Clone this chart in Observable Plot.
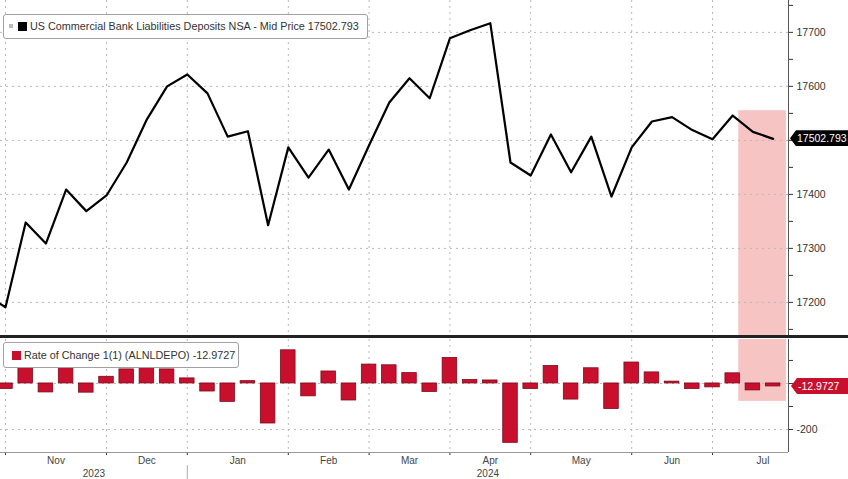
<!DOCTYPE html>
<html>
<head>
<meta charset="utf-8">
<script src="https://cdn.jsdelivr.net/npm/d3@7"></script>
<script src="https://cdn.jsdelivr.net/npm/@observablehq/plot@0.6"></script>
<style>
  body { margin: 0; background: #fff; font-family: "Liberation Sans", Arial, sans-serif; }
  #wrap { position: relative; width: 848px; height: 479px; overflow: hidden; background: #fff; }
  #wrap svg { position: absolute; left: 0; }
  .legend { position: absolute; box-sizing: border-box; background: #fff; border: 1px solid #a0a0a0;
            border-radius: 3px; font-size: 10.8px; color: #333; white-space: nowrap; }
  .legend span { position: absolute; }
  .tag { position: absolute; box-sizing: border-box; color: #fff; font-size: 10.5px; height: 16px;
         line-height: 16px; padding-left: 7px;
         clip-path: polygon(0 50%, 6px 0, 100% 0, 100% 100%, 6px 100%); }
  #divider { position: absolute; left: 0; width: 848px; height: 3px; background: #222; }
</style>
</head>
<body>
<div id="wrap"></div>
<script>
// ---- data ----
const weeks = [
  "2023-10-25","2023-11-01","2023-11-08","2023-11-15","2023-11-22","2023-11-29",
  "2023-12-06","2023-12-13","2023-12-20","2023-12-27",
  "2024-01-03","2024-01-10","2024-01-17","2024-01-24","2024-01-31",
  "2024-02-07","2024-02-14","2024-02-21","2024-02-28",
  "2024-03-06","2024-03-13","2024-03-20","2024-03-27",
  "2024-04-03","2024-04-10","2024-04-17","2024-04-24",
  "2024-05-01","2024-05-08","2024-05-15","2024-05-22","2024-05-29",
  "2024-06-05","2024-06-12","2024-06-19","2024-06-26",
  "2024-07-03","2024-07-10","2024-07-17","2024-07-24"
];
const deposits = [
  17215, 17191, 17348, 17309, 17409, 17369,
  17398, 17459, 17539, 17600,
  17622, 17587, 17507, 17517, 17343,
  17487, 17431, 17483, 17409,
  17491, 17570, 17615, 17578,
  17689, 17704, 17717, 17459,
  17435, 17511, 17441, 17507, 17396,
  17487, 17535, 17543, 17519,
  17502, 17546, 17515.77, 17502.793
];
// Rate of change 1(1), weeks[1] .. weeks[39]
const rateOfChange = [
  -24, 157, -39, 100, -40,
  29, 61, 80, 61,
  22, -35, -80, 10, -174,
  144, -56, 52, -74,
  82, 79, 45, -37,
  111, 15, 13, -258,
  -24, 76, -70, 66, -111,
  91, 48, 8, -24,
  -17, 44, -30.2, -12.9727
];
const monthLabels = ["Nov","Dec","Jan","Feb","Mar","Apr","May","Jun","Jul"];
const yearLabels = ["2023","2024"];
const priceTicks = d3.range(17150, 17751, 50);
const priceLabels = [17200, 17300, 17400, 17600, 17700];
const rocTicks = [100, 0, -100, -200];
const rocLabels = [-200];
const legendTop = "US Commercial Bank Liabilities Deposits NSA - Mid Price 17502.793";
const legendBottom = "Rate of Change 1(1) (ALNLDEPO) -12.9727";
const highlight = {from: 37.3, to: 39.66, priceTop: 17555, rocBottom: -78};

// ---- derived tables ----
const dates = weeks.map(d => new Date(d + "T00:00:00Z"));
const lineData = deposits.map((v, p) => ({p, v}));
const barData = rateOfChange.map((v, k) => ({p: k + 1, v}));
const monthStarts = [];
dates.forEach((d, p) => { if (p > 0 && d.getUTCMonth() !== dates[p - 1].getUTCMonth()) monthStarts.push(p); });
const lastStart = monthStarts[monthStarts.length - 1];
const m0 = d3.utcMonth.floor(dates[lastStart]);
const lastEnd = lastStart + d3.utcWednesday.range(m0, d3.utcMonth.offset(m0, 1)).length;
const monthMids = monthStarts.map((s, i) => ({
  label: monthLabels[i],
  p: (s + (i < monthStarts.length - 1 ? monthStarts[i + 1] : lastEnd)) / 2
}));
const xDomain = [0.7525, 39.762];
const yearStart = dates.findIndex(d => d.getUTCFullYear() === 2024);
const yearMids = [
  {label: yearLabels[0], p: (xDomain[0] + yearStart) / 2},
  {label: yearLabels[1], p: (yearStart + xDomain[1]) / 2}
];

const grid = {stroke: "#b8b8b8", strokeDasharray: "2,4", strokeWidth: 1};
const pink = "#f7c4c4";
const font = {fontFamily: "Liberation Sans, Arial, sans-serif", fontSize: "10.5px", color: "#333", background: "transparent", overflow: "visible"};

// ---- top panel ----
const priceDomain = [17135, 17759];
const topPlot = Plot.plot({
  width: 848, height: 337,
  marginLeft: 0, marginRight: 60, marginTop: 0, marginBottom: 0,
  style: font,
  x: {domain: xDomain, axis: null},
  y: {domain: priceDomain, axis: "right", ticks: priceTicks, tickSize: 4, tickPadding: 4,
      tickFormat: d => priceLabels.includes(d) ? String(d) : "", label: null},
  marks: [
    Plot.rect([highlight], {x1: "from", x2: "to", y1: priceDomain[0], y2: "priceTop", fill: pink}),
    Plot.ruleY(priceTicks.filter(d => d % 100 === 0), grid),
    Plot.ruleX(monthStarts, grid),
    Plot.line(lineData, {x: "p", y: "v", stroke: "#000", strokeWidth: 2.2, clip: true}),
    Plot.ruleX([xDomain[1]], {stroke: "#555"})
  ]
});
topPlot.style.top = "0px";

// ---- bottom panel ----
const rocDomain = [-300, 191];
const bottomPlot = Plot.plot({
  width: 848, height: 142,
  marginLeft: 0, marginRight: 60, marginTop: 2, marginBottom: 27,
  style: font,
  x: {domain: xDomain, axis: "bottom", ticks: monthStarts, tickSize: 3, tickFormat: () => "", label: null},
  y: {domain: rocDomain, axis: "right", ticks: rocTicks, tickSize: 4, tickPadding: 4,
      tickFormat: d => rocLabels.includes(d) ? String(d) : "", label: null},
  marks: [
    Plot.rect([highlight], {x1: "from", x2: "to", y1: "rocBottom", y2: rocDomain[1], fill: pink}),
    Plot.ruleY([0, -200], grid),
    Plot.ruleX(monthStarts, grid),
    Plot.rectY(barData, {x1: d => d.p - 0.36, x2: d => d.p + 0.36, y: "v",
      fill: "#c8102e", stroke: "#7d0a1a", strokeWidth: 0.8, clip: true}),
    Plot.ruleY([rocDomain[0]], {stroke: "#999"}),
    Plot.ruleX([xDomain[1]], {stroke: "#555"}),
    Plot.text(monthMids, {x: "p", y: rocDomain[0], dy: 8, text: "label", fill: "#444", fontSize: 10}),
    Plot.text(yearMids, {x: "p", y: rocDomain[0], dy: 21, text: "label", fill: "#444", fontSize: 10}),
    Plot.ruleX([yearStart], {y1: -357, y2: -420, stroke: "#aaa"})
  ]
});
const bottomTop = 337;
bottomPlot.style.top = bottomTop + "px";

const wrap = document.getElementById("wrap");
wrap.appendChild(topPlot);
wrap.appendChild(bottomPlot);

const divider = document.createElement("div");
divider.id = "divider";
divider.style.top = "335px";
wrap.appendChild(divider);

// legends
function legend(text, left, topPx, width, height, swatches, textLeft) {
  const box = document.createElement("div");
  box.className = "legend";
  Object.assign(box.style, {left: left + "px", top: topPx + "px", width: width + "px", height: height + "px"});
  swatches.forEach(s => {
    const sw = document.createElement("span");
    Object.assign(sw.style, {left: s.x + "px", top: s.y + "px", width: s.w + "px", height: s.w + "px", background: s.c});
    box.appendChild(sw);
  });
  const t = document.createElement("span");
  t.textContent = text;
  Object.assign(t.style, {left: textLeft + "px", top: ((height - 2) / 2 - 6.5) + "px", lineHeight: "13px"});
  box.appendChild(t);
  wrap.appendChild(box);
}
legend(legendTop, 3, 14, 365, 25,
  [{x: 5, y: 9, w: 4, c: "#bbb"}, {x: 14, y: 7, w: 9, c: "#000"}], 26);
legend(legendBottom, 3, 342, 236, 26,
  [{x: 8, y: 8, w: 9, c: "#c8102e"}], 20);

// value tags
function tag(text, yPx, bg, left) {
  const el = document.createElement("div");
  el.className = "tag";
  el.textContent = text;
  Object.assign(el.style, {left: left + "px", top: (yPx - 8) + "px", width: (848 - left) + "px", background: bg});
  wrap.appendChild(el);
}
tag(String(deposits[deposits.length - 1]), topPlot.scale("y").apply(deposits[deposits.length - 1]), "#000", 790);
tag(String(rateOfChange[rateOfChange.length - 1]), bottomTop + bottomPlot.scale("y").apply(rateOfChange[rateOfChange.length - 1]), "#c8102e", 791);
</script>
</body>
</html>
